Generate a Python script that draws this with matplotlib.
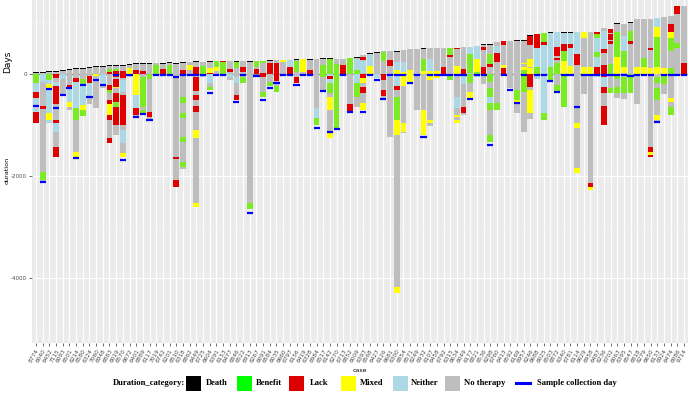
import matplotlib
matplotlib.use("Agg")
import matplotlib.pyplot as plt
from matplotlib.patches import Rectangle
from matplotlib.lines import Line2D
import numpy as np

nan = float("nan")

cases = ["8774","6040","6452","7115","6093","6501","6214","6580","6324","7060",
         "6948","6883","6019","6570","6672","6401","6889","6117","7019","6742",
         "6201","6510","6318","6862","6449","6725","6604","6391","6153","6477",
         "6846","6522","6913","6267","6091","6584","6035","6660","6797","6156",
         "6419","6328","6984","6517","6142","6270","6713","6852","6009","6393",
         "6568","6427","6126","6681","6300","6854","6571","6249","6932","6107",
         "6458","6792","6315","6634","6049","6177","6821","6536","6298","6760",
         "6413","6592","6169","6957","6246","6688","6025","6503","6872","6340",
         "6781","6114","6629","6958","6487","6236","6702","6063","6395","6547",
         "6818","6279","6650","6133","6924","6474","6086","9714"]

# category codes: D Death, B Benefit, L Lack, M Mixed, N Neither, T No therapy
category_names = ["Death", "Benefit", "Lack", "Mixed", "Neither", "No therapy"]
category_codes = ["D", "B", "L", "M", "N", "T"]

# positive durations (days), stacked upward from 0
pos_segments = [
    [("T",20),("D",20)], [("T",25),("D",20)], [("T",30),("D",20)], [("T",45),("D",20)],
    [("T",60),("D",20)], [("T",75),("D",20)], [("T",90),("D",20)], [("T",90),("D",20)],
    [("T",125),("D",20)], [("T",135),("D",20)], [("T",145),("D",20)],
    [("L",40),("B",50),("T",60),("D",20)], [("L",60),("B",40),("T",60),("D",20)],
    [("L",60),("T",100),("D",20)], [("M",120),("T",50),("D",20)],
    [("L",80),("T",110),("D",20)], [("L",60),("T",140),("D",20)], [("T",190),("D",20)],
    [("B",175),("T",40)], [("L",100),("T",90),("D",30)], [("B",175),("T",40),("D",20)],
    [("T",200),("D",20)], [("L",80),("T",130),("D",20)], [("T",80),("M",100),("T",65)],
    [("L",130),("T",100),("D",20)], [("B",160),("T",70)],
    [("L",20),("M",100),("T",110),("D",20)], [("T",50),("M",80),("B",125)],
    [("B",235),("L",20)], [("T",30),("L",65),("T",160)], [("T",110),("B",130),("D",15)],
    [("T",30),("L",100),("T",125)], [("T",240),("D",20)], [("L",90),("T",50),("B",120)],
    [("L",25),("T",185),("B",50)], [("L",210),("T",45),("D",20)], [("L",210),("T",65)],
    [("T",230),("M",45)], [("L",145),("N",130)], [("T",45),("B",215),("T",10),("D",20)],
    [("T",45),("M",245)], [("L",80),("T",195),("D",20)], [("T",290)],
    [("B",175),("T",110),("D",20)], [("B",285),("D",20)], [("B",190),("T",110)],
    [("L",175),("T",125)], [("B",305)], [("B",70),("N",230),("T",20),("D",20)],
    [("T",25),("N",230),("T",25),("L",45),("T",50)], [("M",155),("N",230),("T",15),("D",20)],
    [("T",420),("D",20)], [("T",250),("B",180),("T",20)], [("T",150),("L",130),("T",170)],
    [("M",70),("N",170),("T",195),("D",20)], [("M",30),("N",200),("T",240)],
    [("M",80),("T",405)], [("T",485)], [("M",60),("B",240),("T",195),("D",20)],
    [("M",60),("N",240),("T",215)], [("M",60),("T",455)], [("L",140),("T",375)],
    [("T",340),("L",40),("B",135)], [("M",160),("T",330),("L",25)], [("L",100),("T",435)],
    [("T",15),("B",370),("N",150)], [("B",40),("M",250),("N",260)],
    [("L",135),("T",330),("L",65),("T",30),("D",20)],
    [("T",130),("L",65),("B",195),("T",170),("D",20)],
    [("T",240),("L",165),("N",150),("T",80)], [("L",110),("M",60),("T",400),("L",80)],
    [("T",650)], [("T",645),("D",20)],
    [("B",80),("M",60),("T",50),("M",35),("T",420),("D",20)],
    [("M",110),("T",25),("M",160),("T",265),("L",185),("D",20)],
    [("B",140),("N",360),("L",275)], [("N",570),("L",50),("B",175)],
    [("B",140),("N",655),("D",20)],
    [("B",220),("T",60),("L",35),("T",40),("L",165),("N",295)],
    [("M",260),("B",200),("L",130),("N",220),("D",20)],
    [("M",150),("N",350),("L",80),("N",230),("D",20)],
    [("T",175),("L",225),("N",430)], [("M",145),("T",555),("M",130)], [("M",145),("T",685)],
    [("L",140),("N",200),("B",100),("N",260),("B",80),("L",50)],
    [("L",175),("T",235),("L",80),("N",360),("T",60)],
    [("B",200),("T",390),("L",60),("T",25),("L",100),("T",30),("L",70)],
    [("M",325),("B",490),("T",165),("D",25)],
    [("T",25),("M",120),("B",300),("N",300),("T",245)],
    [("T",590),("L",65),("B",195),("T",155),("D",20)],
    [("M",145),("T",925)], [("M",145),("B",160),("T",775)],
    [("M",110),("T",370),("L",30),("T",570)],
    [("M",145),("B",585),("M",195),("N",165)], [("M",120),("T",990)],
    [("B",120),("T",330),("B",260),("M",120),("L",150),("T",155)],
    [("T",510),("B",100),("T",560),("L",165)], [("L",215),("T",1120)],
]

# negative durations (days), stacked downward from 0
neg_segments = [
    [("B",180),("N",175),("L",120),("N",275),("L",215)],
    [("N",155),("T",470),("L",60),("T",1235),("B",155),("T",40)],
    [("B",120),("N",80),("M",80),("T",40),("N",450),("M",135),("N",60)],
    [("L",80),("T",80),("N",80),("L",350),("T",315),("L",60),("N",175),("T",295),("L",195)],
    [("N",100),("T",290)],
    [("T",215),("L",60),("N",275),("M",100),("T",60)],
    [("T",80),("L",80),("N",510),("B",235),("T",625),("M",100)],
    [("T",100),("B",100),("N",410),("M",100),("B",120)],
    [("T",40),("L",135),("N",295),("T",120)],
    [("M",40),("T",625)],
    [("N",195),("T",80)],
    [("T",215),("L",100),("B",60),("T",135),("L",80),("M",215),("L",100),("T",350),("L",100)],
    [("L",60),("T",40),("L",155),("M",20),("T",100),("L",175),("B",100),("L",350),("T",195)],
    [("L",80),("T",40),("N",235),("T",60),("L",590),("T",100),("N",255),("T",195),("M",80)],
    [("N",60)],
    [("M",410),("N",255),("L",135),("T",40)],
    [("T",60),("B",590),("T",60),("B",80)],
    [("B",100),("T",645),("L",100),("T",40)],
    [("N",20)], [], [("T",40)],
    [("T",1625),("L",40),("T",410),("L",135)],
    [("T",450),("B",120),("T",195),("B",100),("T",370),("B",100),("T",390),("B",100),("T",40)],
    [],
    [("T",60),("L",275),("T",80),("L",100),("T",120),("L",120),("T",350),("M",155),("T",1275),("M",80)],
    [("N",60)], [("N",175),("T",80),("B",60)], [], [], [("N",60),("T",60)],
    [("T",60),("N",120),("T",235),("L",100)], [("T",50),("B",120)],
    [("T",2530),("B",120)], [], [("L",60),("T",295),("B",100)], [("T",155),("B",80)],
    [("L",135),("T",100),("B",120)], [], [], [("T",60),("L",120)], [], [],
    [("T",665),("N",195),("B",135)], [("B",60),("T",270)],
    [("N",40),("L",60),("N",80),("B",195),("T",80),("M",255),("T",450),("M",100)],
    [("B",1060)], [("L",40)], [("T",590),("L",155)], [("N",175),("B",275),("T",200)],
    [("L",80),("M",100),("T",80),("L",120),("T",195),("M",135)],
    [], [("N",80)], [("L",120),("T",195),("L",120),("T",40)], [("N",60),("T",1175)],
    [("N",235),("L",80),("T",135),("B",450),("M",295),("T",2980),("M",120)],
    [("M",235),("T",725),("M",175),("T",20)], [("M",155)], [("T",700)],
    [("T",705),("M",490)], [("M",120),("T",785),("M",60),("T",60)], [("M",80)], [],
    [("B",120)], [("T",450),("N",215),("T",135),("M",40),("T",60),("M",60)],
    [("N",195),("T",450),("L",120),("T",40)], [("B",175),("T",175),("M",120)],
    [("N",60)], [("T",195)],
    [("B",155),("T",120),("B",175),("N",120),("B",135),("T",490),("B",135)],
    [("T",570),("B",135)], [], [("T",275)], [("T",310),("B",195),("M",60),("T",200)],
    [("B",350),("T",780)], [("L",255),("T",60),("M",450),("T",120)], [("N",100)],
    [("N",765),("B",135)], [("B",135)], [("T",215),("B",135)], [("B",645)], [],
    [("T",960),("M",100),("T",785),("M",100)], [("T",390)], [("T",2135),("L",80),("M",60)],
    [("N",60)], [("L",60),("N",195),("L",120),("T",255),("L",370)], [("T",275),("B",100)],
    [("B",100),("T",155),("B",120),("T",100)], [("N",60),("B",310),("T",120)], [("B",370)],
    [("T",590)], [], [("T",1430),("L",100),("M",60),("L",40)],
    [("T",60),("B",120),("T",100),("B",235),("T",295),("M",100),("T",20)],
    [("B",195),("T",200)], [("T",470),("M",80),("T",100),("B",155)], [], [],
]

sample_day = [-630,-2120,-295,-665,-405,-275,-1650,-215,-450,-120,
              -215,nan,-10,-1690,-20,-840,-785,-900,-20,-20,
              -20,-60,-20,-20,-20,-20,-370,-20,-20,nan,
              -550,-20,-2720,-40,-510,-275,-175,-20,-20,-215,
              -20,-20,-1060,-330,-1135,-1080,-20,-745,nan,-745,
              -20,-120,-490,-20,-20,-20,-175,-20,-1235,-20,
              -20,-20,-20,-20,-20,-490,-20,-20,-1390,nan,
              -20,-310,-570,-20,nan,-20,-20,-145,-350,-20,
              -20,-645,-20,-20,-20,-20,-20,-20,-20,-40,
              -20,-20,-20,-940,-20,-20,-20,-20]

bar_colors = {"D": "#000000", "B": "#7CEB24", "L": "#E00000", "M": "#FFFF00",
              "N": "#ADD8E6", "T": "#BEBEBE"}
legend_colors = {"D": "#000000", "B": "#00FF00", "L": "#DD0000", "M": "#FFFF00",
                 "N": "#ADD8E6", "T": "#BEBEBE"}

W, H = 700, 395
fig = plt.figure(figsize=(W / 100, H / 100), dpi=100)
ax = fig.add_axes([32 / W, 1 - 343 / H, (688 - 32) / W, 343 / H])
ax.set_facecolor("#EBEBEB")

n = len(cases)
x = np.arange(n)

# build stacked rectangles
rects = {c: ([], [], []) for c in category_codes}
for i in range(n):
    base = 0.0
    for cat, d in pos_segments[i]:
        rects[cat][0].append(i); rects[cat][1].append(d); rects[cat][2].append(base)
        base += d
    base = 0.0
    for cat, d in neg_segments[i]:
        rects[cat][0].append(i); rects[cat][1].append(-d); rects[cat][2].append(base)
        base -= d

for c in category_codes:
    xs, hs, bs = rects[c]
    ax.bar(xs, hs, bottom=bs, width=0.86, color=bar_colors[c], linewidth=0, zorder=3)

ax.axhline(0, color="#8C8C8C", lw=1.0, zorder=2)
sd = np.array(sample_day, dtype=float)
ax.hlines(sd, x - 0.46, x + 0.46, color="#0000FF", lw=1.6, zorder=4)

ax.set_xlim(-0.6, n - 1 + 0.6)
ax.set_ylim(-5275, 1451)
ax.set_yticks([-4000, -2000, 0])
ax.set_yticklabels(["-4000", "-2000", "0"])
ax.set_yticks([-5000, -3000, -1000, 1000], minor=True)
ax.set_xticks(x)
ax.set_xticklabels(cases, rotation=60, ha="right", rotation_mode="anchor",
                   fontsize=4.2, color="#4D4D4D")
ax.tick_params(axis="y", labelsize=4.0, labelcolor="#4D4D4D", length=2,
               color="#333333", width=0.5, pad=1.5)
ax.tick_params(axis="y", which="minor", length=0)
ax.tick_params(axis="x", length=2, color="#333333", width=0.5, pad=1.5)
ax.grid(True, which="major", color="white", lw=0.8, zorder=0)
ax.grid(True, which="minor", axis="y", color="#F5F5F5", lw=0.4, zorder=0)
ax.set_axisbelow(True)
for s in ax.spines.values():
    s.set_visible(False)

fig.text(8 / W, 1 - 62 / H, "Days", rotation=90, fontsize=6.5, ha="center", va="center")
fig.text(7 / W, 1 - 170 / H, "duration", rotation=90, fontsize=4.6, ha="center", va="center")
fig.text(360 / W, 1 - 370 / H, "case", fontsize=4.5, ha="center", va="center")

# legend
lf = dict(family="Liberation Serif", weight="bold", fontsize=6.2)
ly = 383
fig.text(113 / W, 1 - ly / H, "Duration_category:", ha="left", va="center", **lf)
key_x = [186, 237, 289, 341, 393, 445]
lab_x = [206, 256, 310, 360, 411, 464]
for kx, tx, code, name in zip(key_x, lab_x, category_codes, category_names):
    fig.add_artist(Rectangle((kx / W, 1 - (ly + 7.5) / H), 15 / W, 15 / H,
                             transform=fig.transFigure, facecolor=legend_colors[code],
                             edgecolor="none"))
    fig.text(tx / W, 1 - ly / H, name, ha="left", va="center", **lf)
fig.add_artist(Line2D([516 / W, 530 / W], [1 - ly / H, 1 - ly / H], transform=fig.transFigure,
                      color="#0000FF", lw=2.2))
fig.text(537 / W, 1 - ly / H, "Sample collection day", ha="left", va="center", **lf)

fig.savefig("out.png", dpi=100)
